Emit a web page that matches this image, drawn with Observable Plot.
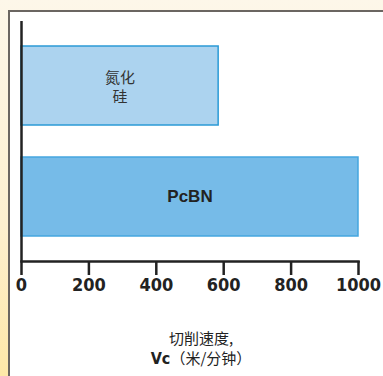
<!DOCTYPE html>
<html><head><meta charset="utf-8">
<script src="https://cdn.jsdelivr.net/npm/d3@7"></script>
<script src="https://cdn.jsdelivr.net/npm/@observablehq/plot@0.6"></script>
<style>
body{margin:0;width:383px;height:376px;overflow:hidden;position:relative;background:linear-gradient(to bottom,#fdf7e9 0%,#fdf0cf 60%,#fee8a8 100%);font-family:"Noto Sans CJK SC","Liberation Sans",sans-serif;}
#panel{position:absolute;left:8px;top:10px;right:0;bottom:0;background:#fff;border-left:2px solid #6b6661;border-top:2px solid #6b6661;}
#chart{position:absolute;left:0;top:0;}
#xtitle{position:absolute;left:0;width:402px;top:328px;text-align:center;font-size:15px;line-height:20px;color:#222;}
#xtitle b{font-family:"Liberation Sans Narrow","DejaVu Sans Condensed","Liberation Sans",sans-serif;font-weight:bold;font-size:16px;}
</style></head>
<body>
<div id="panel"></div>
<div id="chart"></div>
<div id="xtitle">切削速度,<br><b>Vc</b>（米/分钟）</div>
<script>
const materials = ["氮化硅", "PcBN"];
const labels = ["氮化\n硅", "PcBN"];
const speeds = [585, 1000];
const ticks = [0, 200, 400, 600, 800, 1000];
const fills = ["#acd3ef", "#76bbe8"];
const strokes = ["#2b9ad6", "#45a6df"];

const data = materials.map((m, i) => ({material: m, label: labels[i], speed: speeds[i], fill: fills[i], stroke: strokes[i]}));

const chart = Plot.plot({
  width: 383,
  height: 300,
  marginLeft: 21,
  marginRight: 25,
  marginTop: 21,
  marginBottom: 39,
  style: {background: "transparent", overflow: "visible"},
  x: {domain: [0, 1000], ticks: ticks},
  y: {domain: materials, paddingInner: 0.288, paddingOuter: 0.225, axis: null},
  marks: [
    Plot.barX(data, {y: "material", x: "speed", fill: "fill", stroke: "stroke", strokeWidth: 1.5}),
    Plot.text(data.slice(0, 1), {y: "material", x: d => d.speed / 2, text: "label", fontSize: 15, fill: "#333", lineHeight: 1.3, fontFamily: "Noto Sans CJK SC"}),
    Plot.text(data.slice(1), {y: "material", x: d => d.speed / 2, text: "label", fontSize: 17, fontWeight: "bold", fill: "#222", fontFamily: "Liberation Sans, sans-serif"}),
    Plot.ruleX([0], {stroke: "#222", strokeWidth: 2.5}),
    Plot.frame({anchor: "bottom", stroke: "#222", strokeWidth: 2.5}),
    Plot.axisX({ticks: ticks, tickSize: 14, tickPadding: 3, strokeWidth: 2.5, stroke: "#222", fill: "#222", fontSize: 18, fontWeight: "bold", fontFamily: "'Liberation Sans Narrow', 'DejaVu Sans Condensed', 'Liberation Sans', sans-serif", label: null, tickFormat: d => String(d)})
  ]
});
document.getElementById("chart").appendChild(chart);
</script>
</body></html>
